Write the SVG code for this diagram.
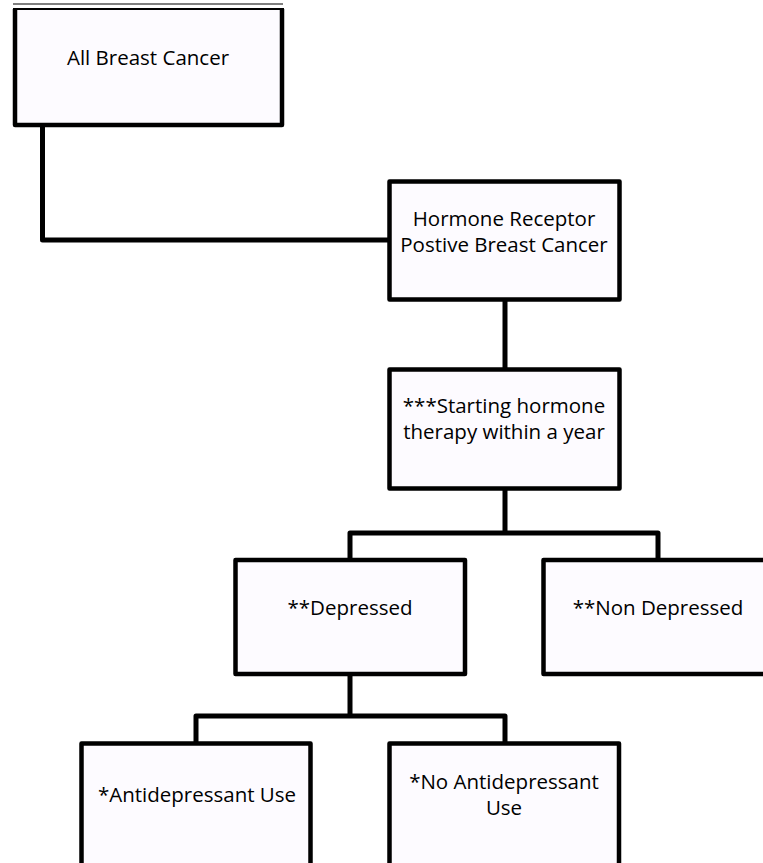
<svg xmlns="http://www.w3.org/2000/svg" width="763" height="863" viewBox="0 0 763 863">
<style>
.box{fill:#fdfbff;stroke:#000;stroke-width:4.5;stroke-linejoin:round}
.conn{fill:none;stroke:#000;stroke-width:5;stroke-linejoin:round}
text{font-family:"Open Sans","Noto Sans","Liberation Sans",sans-serif;font-size:20.5px;fill:#000;text-anchor:middle}
</style>
<rect width="763" height="863" fill="#fff"/>
<g id="connectors">
<path class="conn" d="M42.5,125 V240 H389.5"/>
<path class="conn" d="M505,299.5 V369.5"/>
<path class="conn" d="M505,488.5 V533 M350,560 V533 H658 V560"/>
<path class="conn" d="M350,674 V716 M196,743.5 V716 H505 V743.5"/>
</g>
<g id="node-all">
<line x1="13" y1="4" x2="283" y2="4" stroke="#555" stroke-width="1.5"/>
<rect x="15" y="9" width="267" height="116" fill="#fdfbff"/>
<path d="M15,9 V125 H282 V9" fill="none" stroke="#000" stroke-width="4.5" stroke-linejoin="round"/>
<line x1="13" y1="9" x2="284" y2="9" stroke="#000" stroke-width="2"/>
<text x="148" y="65">All Breast Cancer</text>
</g>
<g id="node-hr">
<rect class="box" x="389.5" y="181.5" width="230" height="118"/>
<text x="504" y="226">Hormone Receptor</text>
<text x="504" y="252">Postive Breast Cancer</text>
</g>
<g id="node-start">
<rect class="box" x="389.5" y="369.5" width="230" height="119"/>
<text x="504" y="413">***Starting hormone</text>
<text x="504" y="439">therapy within a year</text>
</g>
<g id="node-dep">
<rect class="box" x="235.5" y="560" width="229.5" height="114"/>
<text x="350" y="615">**Depressed</text>
</g>
<g id="node-nondep">
<rect class="box" x="543.5" y="560" width="240" height="114"/>
<text x="658" y="615">**Non Depressed</text>
</g>
<g id="node-ad">
<rect class="box" x="81.5" y="743.5" width="229" height="130"/>
<text x="197" y="802">*Antidepressant Use</text>
</g>
<g id="node-noad">
<rect class="box" x="389.5" y="743.5" width="229.5" height="130"/>
<text x="504" y="789">*No Antidepressant</text>
<text x="504" y="815">Use</text>
</g>
</svg>
